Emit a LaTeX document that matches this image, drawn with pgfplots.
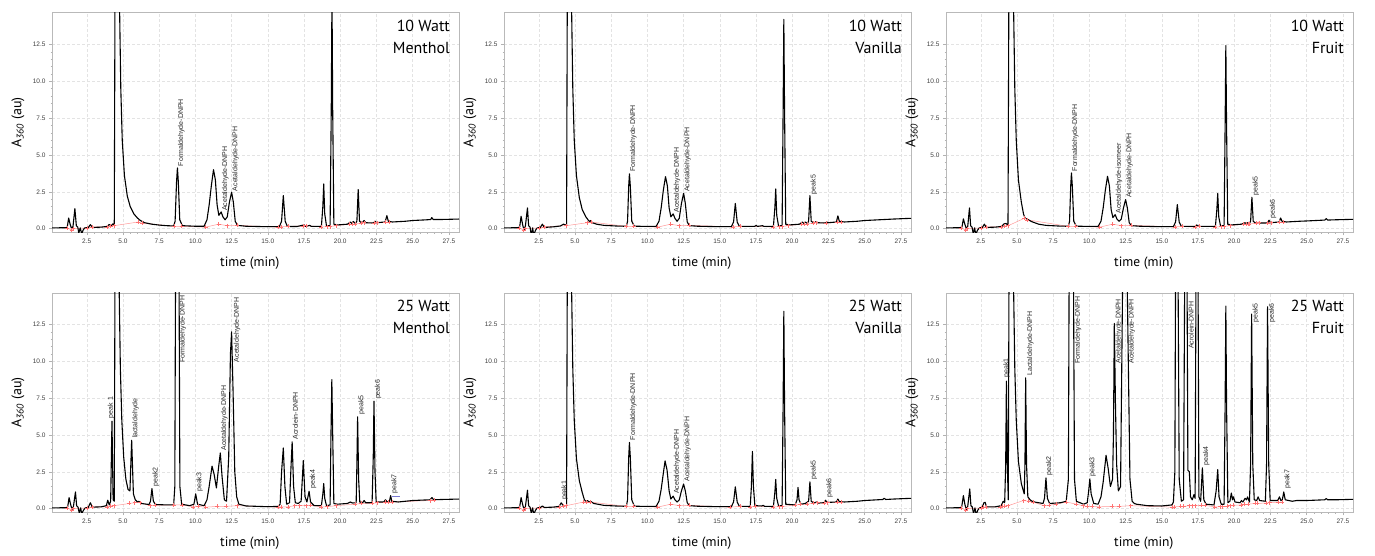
\documentclass[border=0pt]{standalone}
\usepackage{fontspec}
\setmainfont{PT Sans}
\newfontfamily\tickfont{Liberation Sans}
\newfontfamily\peakfont{Liberation Sans}
\usepackage{pgfplots}
\pgfplotsset{compat=1.18}

\pgfplotsset{
 chrom/.style={
  scale only axis, width=407pt, height=219.5pt,
  xmin=0.1, xmax=28.2, ymin=-0.25, ymax=14.65,
  xtick={2.5,5,7.5,10,12.5,15,17.5,20,22.5,25,27.5},
  ytick={0,2.5,5,7.5,10,12.5},
  minor x tick num=4, minor y tick num=4,
  tick pos=left, tick align=outside,
  major tick length=3pt, minor tick length=1.5pt,
  grid=major, major grid style={densely dashed, gray!22, line width=0.5pt},
  axis line style={gray!55, line width=0.6pt},
  tick style={gray!60, line width=0.5pt},
  ticklabel style={font=\tickfont\fontsize{6.5}{7}\selectfont, text=black!75},
  /pgf/number format/fixed, /pgf/number format/fixed zerofill,
  /pgf/number format/precision=1, /pgf/number format/assume math mode=true,
  xlabel={time (min)}, ylabel={A\textsubscript{\textit{360}} (au)},
  xlabel style={font=\fontsize{13.5}{15}\selectfont, at={(axis description cs:0.486,-0.141)}, anchor=center},
  ylabel style={font=\fontsize{14}{16}\selectfont, at={(axis description cs:-0.0835,0.5)}, anchor=center},
 },
 trace/.style={black, line width=1.1pt, line join=round, mark=none},
 base/.style={red!40, line width=0.5pt, mark=+, mark size=2pt, mark options={red!55}},
}
\tikzset{
 peak/.style={rotate=90, anchor=north west, inner sep=0.5pt, font=\peakfont\fontsize{7}{8}\selectfont, text=black!85},
 ttl/.style={anchor=north east, align=right, font=\fontsize{16}{21.7}\selectfont, inner sep=0pt}
}

\begin{document}
\begin{tikzpicture}
\useasboundingbox (0,0) rectangle (1375pt,555pt);

% ---------- 10 Watt Menthol
\begin{axis}[chrom, at={(52pt,322.7pt)}, anchor=south west]
\addplot[base] coordinates {(1.15,0.05) (1.45,-0.1) (1.55,0.0) (2.55,0.05) (2.85,0.12) (3.9,0.12) (4.15,0.18) (4.4,0.2) (6.05,0.45) (6.3,0.38) (8.55,0.15) (9.05,0.16) (10.7,0.1) (11.6,0.3) (12.2,0.2) (12.9,0.22) (15.7,0.1) (15.9,0.12) (16.4,0.15) (17.45,0.18) (17.65,0.2) (18.7,0.12) (19.1,0.13) (19.3,0.14) (19.7,0.2) (20.65,0.3) (20.85,0.3) (21.05,0.32) (21.45,0.35) (21.65,0.4) (22.35,0.38) (22.55,0.4) (23.1,0.42) (23.4,0.45)};
\addplot[trace] coordinates {(0.1,0.05) (1.0,0.06) (1.15,0.08) (1.25,0.72) (1.35,0.3) (1.45,0.0) (1.55,0.15) (1.68,1.36) (1.78,0.2) (1.88,0.1) (1.95,-0.3) (2.05,0.05) (2.15,-0.35) (2.25,-0.1) (2.35,0.05) (2.6,0.07) (2.75,0.27) (2.9,0.08) (3.5,0.1) (3.9,0.15) (4.05,0.28) (4.2,0.2) (4.3,0.32) (4.4,0.2) (4.45,16) (4.75,16) (4.85,9.5) (4.95,6.0) (5.1,3.6) (5.3,2.2) (5.5,1.5) (5.75,1.0) (6.0,0.72) (6.2,0.55) (6.5,0.4) (7.0,0.3) (7.5,0.24) (8.0,0.2) (8.5,0.18) (8.6,0.5) (8.7,3.2) (8.76,4.12) (8.82,3.2) (8.92,0.6) (9.1,0.2) (10.0,0.16) (10.6,0.16) (10.8,0.6) (10.95,1.6) (11.1,2.9) (11.25,4.0) (11.38,3.3) (11.5,1.6) (11.62,0.9) (11.78,1.13) (11.9,0.8) (12.05,0.6) (12.2,0.8) (12.35,1.8) (12.5,2.47) (12.62,1.8) (12.75,0.5) (12.9,0.22) (13.5,0.16) (15.0,0.13) (15.8,0.14) (15.95,0.5) (16.07,2.24) (16.2,0.5) (16.35,0.15) (17.0,0.14) (17.5,0.25) (17.6,0.15) (17.9,0.22) (18.0,0.15) (18.7,0.15) (18.8,1.5) (18.86,3.03) (18.93,1.0) (19.05,0.2) (19.3,0.2) (19.38,8) (19.43,16) (19.48,8) (19.56,0.3) (19.8,0.25) (20.5,0.3) (20.7,0.45) (20.8,0.35) (20.9,0.48) (21.05,0.35) (21.15,0.5) (21.24,2.65) (21.33,0.5) (21.5,0.38) (21.65,0.55) (21.75,0.4) (22.3,0.38) (22.4,0.5) (22.5,0.4) (23.1,0.45) (23.22,0.88) (23.32,0.5) (23.6,0.45) (24.5,0.5) (25.0,0.55) (26.0,0.6) (26.25,0.62) (26.32,0.75) (26.42,0.62) (27.0,0.62) (28.2,0.65)};
\node[peak] at (axis cs:8.76,4.2) {Formaldehyde-DNPH};
\node[peak] at (axis cs:11.8,1.15) {Acetaldehyde-DNPH};
\node[peak] at (axis cs:12.5,2.5) {Acetaldehyde-DNPH};
\node[ttl] at (rel axis cs:0.978,0.968) {10 Watt\\Menthol};
\end{axis}

% ---------- 10 Watt Vanilla
\begin{axis}[chrom, at={(504pt,322.7pt)}, anchor=south west]
\addplot[base] coordinates {(1.15,0.05) (1.45,-0.1) (1.55,0.0) (2.55,0.05) (2.85,0.12) (4.4,0.2) (5.85,0.4) (6.1,0.45) (8.55,0.15) (9.05,0.16) (10.7,0.1) (11.6,0.3) (12.2,0.2) (12.9,0.22) (15.9,0.12) (16.4,0.15) (18.7,0.12) (19.1,0.13) (19.3,0.14) (19.7,0.2) (20.65,0.3) (20.85,0.3) (21.05,0.32) (21.45,0.35) (21.65,0.4) (22.35,0.38) (23.1,0.42) (23.4,0.45)};
\addplot[trace] coordinates {(0.1,0.05) (1.0,0.06) (1.18,0.1) (1.28,0.84) (1.38,0.3) (1.48,-0.1) (1.58,0.2) (1.72,1.41) (1.8,0.2) (1.9,0.1) (1.98,-0.45) (2.08,0.05) (2.15,-0.45) (2.28,-0.1) (2.4,0.05) (2.6,0.07) (2.75,0.3) (2.88,0.08) (3.5,0.12) (4.0,0.18) (4.2,0.3) (4.35,0.25) (4.42,0.2) (4.47,16) (4.75,16) (4.85,9.5) (4.95,6.0) (5.1,3.6) (5.3,2.1) (5.5,1.3) (5.75,0.8) (5.9,0.6) (6.0,0.48) (6.08,0.55) (6.2,0.4) (6.5,0.3) (7.0,0.22) (8.0,0.17) (8.55,0.16) (8.63,0.5) (8.71,2.9) (8.76,3.72) (8.82,2.9) (8.92,0.5) (9.1,0.16) (10.6,0.15) (10.8,0.5) (10.95,1.4) (11.1,2.6) (11.25,3.53) (11.38,2.9) (11.5,1.4) (11.62,0.8) (11.78,1.0) (11.9,0.7) (12.05,0.5) (12.2,0.7) (12.35,1.7) (12.5,2.4) (12.62,1.7) (12.75,0.45) (12.9,0.2) (13.5,0.16) (15.0,0.13) (15.8,0.14) (15.95,0.45) (16.07,1.71) (16.2,0.45) (16.35,0.15) (17.4,0.15) (17.5,0.22) (17.6,0.15) (17.95,0.2) (18.05,0.15) (18.7,0.15) (18.8,1.4) (18.86,2.69) (18.93,0.9) (19.05,0.2) (19.3,0.2) (19.37,8) (19.42,14.2) (19.47,8) (19.55,0.3) (19.8,0.25) (20.5,0.3) (20.7,0.45) (20.8,0.35) (20.9,0.45) (21.05,0.35) (21.13,0.5) (21.22,2.24) (21.31,0.5) (21.5,0.38) (21.65,0.48) (21.75,0.4) (22.3,0.38) (22.38,0.45) (22.48,0.4) (23.05,0.45) (23.15,0.87) (23.25,0.5) (23.6,0.45) (24.5,0.5) (25.0,0.55) (26.0,0.6) (27.0,0.65) (28.2,0.7)};
\node[peak] at (axis cs:8.76,3.8) {Formaldehyde-DNPH};
\node[peak] at (axis cs:11.78,1.05) {Acetaldehyde-DNPH};
\node[peak] at (axis cs:12.5,2.45) {Acetaldehyde-DNPH};
\node[peak] at (axis cs:21.22,2.3) {peak5};
\node[ttl] at (rel axis cs:0.978,0.968) {10 Watt\\Vanilla};
\end{axis}

% ---------- 10 Watt Fruit
\begin{axis}[chrom, at={(946pt,322.7pt)}, anchor=south west]
\addplot[base] coordinates {(1.15,0.05) (1.45,-0.1) (1.55,0.0) (2.55,0.05) (2.85,0.12) (3.9,0.12) (4.15,0.18) (4.4,0.2) (5.5,0.7) (5.7,0.6) (8.55,0.15) (9.05,0.16) (10.7,0.1) (11.6,0.3) (12.2,0.2) (12.9,0.22) (15.9,0.12) (16.4,0.15) (17.3,0.1) (17.55,0.15) (18.7,0.12) (19.1,0.13) (19.3,0.14) (19.7,0.2) (20.65,0.3) (20.8,0.3) (20.95,0.32) (21.05,0.32) (21.5,0.35) (21.7,0.4) (22.3,0.38) (22.55,0.4) (23.1,0.42) (23.4,0.45)};
\addplot[trace] coordinates {(0.1,0.05) (1.0,0.06) (1.2,0.1) (1.3,0.66) (1.4,0.3) (1.5,0.0) (1.6,0.15) (1.72,1.4) (1.8,0.2) (1.9,0.1) (1.98,-0.35) (2.08,0.05) (2.15,-0.4) (2.28,-0.1) (2.4,0.05) (2.6,0.07) (2.75,0.3) (2.88,0.08) (3.5,0.1) (3.95,0.15) (4.1,0.32) (4.25,0.35) (4.38,0.22) (4.44,16) (4.75,16) (4.85,9.5) (4.95,6.0) (5.1,3.3) (5.3,1.8) (5.45,1.0) (5.55,0.72) (5.7,0.65) (6.0,0.48) (6.5,0.3) (7.0,0.22) (8.0,0.17) (8.55,0.16) (8.63,0.5) (8.71,2.9) (8.76,3.78) (8.82,2.9) (8.92,0.5) (9.1,0.16) (10.6,0.15) (10.8,0.5) (10.95,1.4) (11.1,2.6) (11.25,3.55) (11.38,2.9) (11.5,1.3) (11.62,0.75) (11.78,0.95) (11.9,0.65) (12.05,0.5) (12.2,0.65) (12.35,1.4) (12.5,1.97) (12.62,1.4) (12.75,0.4) (12.9,0.2) (13.5,0.16) (15.0,0.13) (15.8,0.14) (15.95,0.45) (16.07,1.63) (16.2,0.45) (16.35,0.15) (17.3,0.15) (17.4,0.25) (17.55,0.15) (18.7,0.15) (18.8,1.3) (18.86,2.38) (18.93,0.8) (19.05,0.2) (19.3,0.2) (19.37,7) (19.42,12.43) (19.47,7) (19.55,0.3) (19.8,0.25) (20.5,0.3) (20.75,0.4) (20.85,0.32) (20.95,0.42) (21.05,0.35) (21.13,0.5) (21.22,2.13) (21.31,0.5) (21.5,0.35) (21.65,0.42) (21.75,0.38) (22.3,0.38) (22.4,0.57) (22.5,0.4) (23.1,0.45) (23.2,0.72) (23.3,0.5) (23.6,0.45) (24.5,0.5) (25.0,0.52) (26.25,0.58) (26.35,0.68) (26.45,0.58) (27.0,0.6) (28.2,0.63)};
\node[peak] at (axis cs:8.76,3.85) {Formaldehyde-DNPH};
\node[peak] at (axis cs:11.78,1.0) {Acetaldehyde-isomeer};
\node[peak] at (axis cs:12.5,2.05) {Acetaldehyde-DNPH};
\node[peak] at (axis cs:21.22,2.2) {peak5};
\node[peak] at (axis cs:22.4,0.65) {peak6};
\node[ttl] at (rel axis cs:0.978,0.968) {10 Watt\\Fruit};
\end{axis}

% ---------- 25 Watt Menthol
\begin{axis}[chrom, at={(52pt,42.7pt)}, anchor=south west]
\addplot[base] coordinates {(1.15,0.05) (1.45,-0.1) (1.55,0.0) (2.55,0.05) (2.85,0.12) (3.9,0.12) (4.15,0.18) (4.4,0.2) (5.45,0.35) (5.8,0.4) (6.2,0.4) (6.85,0.2) (7.2,0.22) (8.5,0.25) (9.1,0.25) (9.85,0.12) (10.2,0.15) (10.7,0.1) (11.5,0.15) (12.1,0.15) (12.9,0.2) (15.7,0.1) (15.9,0.12) (16.4,0.12) (16.85,0.2) (17.2,0.2) (17.65,0.2) (17.95,0.22) (18.7,0.12) (19.1,0.13) (19.7,0.2) (21.05,0.3) (21.45,0.35) (22.2,0.35) (22.55,0.4) (23.1,0.42) (23.3,0.45) (23.6,0.45) (26.2,0.55) (26.5,0.6)};
\addplot[blue!50!gray!70, line width=0.8pt] coordinates {(23.55,0.85) (24.1,0.85)};
\addplot[trace] coordinates {(0.1,0.05) (1.0,0.06) (1.18,0.1) (1.28,0.75) (1.38,0.3) (1.48,-0.05) (1.58,0.15) (1.72,1.13) (1.8,0.2) (1.9,0.1) (1.98,-0.3) (2.08,0.05) (2.15,-0.35) (2.28,-0.1) (2.4,0.05) (2.6,0.08) (2.75,0.4) (2.88,0.1) (3.5,0.12) (3.85,0.2) (3.95,0.57) (4.05,0.25) (4.15,0.5) (4.24,5.93) (4.32,0.6) (4.4,0.5) (4.45,16) (4.72,16) (4.82,9.5) (4.92,6.0) (5.05,3.5) (5.2,2.0) (5.35,1.3) (5.48,1.2) (5.6,4.64) (5.72,1.0) (5.85,0.6) (6.0,0.45) (6.1,0.5) (6.25,0.35) (6.8,0.28) (6.9,0.5) (7.0,1.36) (7.1,0.5) (7.25,0.28) (8.0,0.25) (8.5,0.25) (8.58,1.5) (8.63,16) (8.87,16) (8.93,1.5) (9.05,0.3) (9.6,0.2) (9.9,0.3) (10.02,1.0) (10.15,0.3) (10.6,0.2) (10.8,0.6) (10.95,1.5) (11.15,2.88) (11.3,2.3) (11.45,1.4) (11.6,2.8) (11.72,3.78) (11.84,2.2) (12.0,0.6) (12.15,0.5) (12.3,3.5) (12.42,10.5) (12.5,12.0) (12.6,8) (12.72,2.5) (12.85,0.8) (13.0,0.3) (13.5,0.18) (15.0,0.13) (15.7,0.15) (15.85,0.3) (15.95,2.5) (16.07,4.12) (16.18,1.5) (16.3,0.3) (16.5,0.4) (16.6,2.8) (16.68,4.53) (16.78,1.5) (16.9,0.4) (17.1,0.35) (17.3,0.5) (17.45,3.26) (17.57,0.8) (17.7,0.45) (17.85,1.18) (17.95,0.45) (18.2,0.2) (18.7,0.2) (18.8,1.0) (18.86,1.7) (18.93,0.7) (19.05,0.2) (19.3,0.25) (19.36,5) (19.42,8.76) (19.48,5) (19.56,0.35) (19.8,0.3) (20.5,0.35) (20.7,0.45) (20.85,0.38) (21.1,0.4) (21.15,3) (21.2,6.23) (21.27,2) (21.35,0.45) (21.55,0.4) (21.65,0.55) (21.75,0.4) (22.2,0.4) (22.28,3.5) (22.33,7.29) (22.4,2.5) (22.48,0.45) (23.0,0.45) (23.12,0.6) (23.25,0.45) (23.4,0.5) (23.48,0.88) (23.56,0.5) (24.0,0.45) (25.0,0.55) (26.2,0.6) (26.33,0.75) (26.45,0.6) (27.0,0.62) (28.2,0.65)};
\node[peak] at (axis cs:3.9,6.1) {peak 1};
\node[peak] at (axis cs:5.6,4.75) {lactaldehyde};
\node[peak] at (axis cs:7.0,1.45) {peak2};
\node[peak] at (axis cs:8.85,9.85) {Formaldehyde-DNPH};
\node[peak] at (axis cs:10.02,1.1) {peak3};
\node[peak] at (axis cs:11.72,3.9) {Acetaldehyde-DNPH};
\node[peak] at (axis cs:12.6,9.9) {Acetaldehyde-DNPH};
\node[peak] at (axis cs:16.68,4.65) {Acrolein-DNPH};
\node[peak] at (axis cs:17.85,1.3) {peak4};
\node[peak] at (axis cs:21.2,6.35) {peak5};
\node[peak] at (axis cs:22.33,7.4) {peak6};
\node[peak] at (axis cs:23.48,1.0) {peak7};
\node[ttl] at (rel axis cs:0.978,0.968) {25 Watt\\Menthol};
\end{axis}

% ---------- 25 Watt Vanilla
\begin{axis}[chrom, at={(504pt,42.7pt)}, anchor=south west]
\addplot[base] coordinates {(1.15,0.05) (1.45,-0.1) (1.55,0.0) (2.55,0.05) (3.9,0.12) (4.2,0.15) (4.4,0.2) (5.6,0.45) (5.8,0.45) (6.05,0.45) (8.55,0.15) (9.05,0.16) (10.7,0.1) (11.6,0.3) (12.2,0.2) (12.9,0.22) (15.7,0.1) (16.4,0.15) (17.1,0.12) (17.45,0.15) (18.7,0.12) (19.1,0.13) (19.3,0.14) (20.2,0.25) (20.55,0.28) (21.05,0.32) (21.45,0.35) (21.75,0.4) (22.2,0.38) (22.45,0.4) (23.1,0.42) (23.4,0.45)};
\addplot[trace] coordinates {(0.1,0.05) (1.0,0.06) (1.18,0.1) (1.28,0.75) (1.38,0.3) (1.48,-0.05) (1.58,0.15) (1.72,1.25) (1.8,0.2) (1.9,0.1) (1.98,-0.3) (2.08,0.05) (2.15,-0.4) (2.28,-0.1) (2.4,0.05) (2.6,0.07) (2.75,0.18) (2.88,0.08) (3.5,0.1) (3.9,0.15) (4.05,0.39) (4.2,0.2) (4.42,0.2) (4.47,16) (4.75,16) (4.85,9.5) (4.95,6.0) (5.1,3.4) (5.3,1.9) (5.5,1.1) (5.65,0.6) (5.75,0.5) (5.85,0.55) (6.0,0.45) (6.1,0.48) (6.3,0.35) (7.0,0.22) (8.0,0.17) (8.55,0.16) (8.63,0.6) (8.71,3.5) (8.76,4.49) (8.82,3.5) (8.92,0.6) (9.1,0.16) (10.6,0.15) (10.8,0.5) (10.95,1.3) (11.1,2.4) (11.22,3.24) (11.36,2.6) (11.5,1.2) (11.62,0.65) (11.78,0.85) (11.9,0.6) (12.05,0.45) (12.2,0.6) (12.35,1.2) (12.5,1.67) (12.62,1.2) (12.75,0.4) (12.9,0.2) (13.5,0.16) (15.0,0.13) (15.8,0.14) (15.95,0.45) (16.07,1.48) (16.2,0.45) (16.35,0.15) (17.1,0.15) (17.18,1.5) (17.25,3.88) (17.32,1.5) (17.42,0.2) (17.9,0.18) (18.0,0.22) (18.1,0.15) (18.7,0.15) (18.8,1.1) (18.86,1.98) (18.93,0.7) (19.05,0.2) (19.3,0.2) (19.37,7) (19.42,13.4) (19.47,7) (19.55,0.3) (20.2,0.25) (20.33,0.6) (20.4,1.44) (20.47,0.6) (20.6,0.3) (20.9,0.35) (21.13,0.5) (21.22,1.82) (21.31,0.5) (21.5,0.38) (21.68,0.45) (21.8,0.38) (22.2,0.4) (22.3,0.57) (22.4,0.42) (23.05,0.45) (23.15,0.65) (23.25,0.48) (23.6,0.45) (24.5,0.5) (25.0,0.55) (26.25,0.62) (26.35,0.7) (26.45,0.62) (27.0,0.65) (28.2,0.7)};
\node[peak] at (axis cs:4.0,0.55) {peak1};
\node[peak] at (axis cs:8.76,4.6) {Formaldehyde-DNPH};
\node[peak] at (axis cs:11.78,0.95) {Acetaldehyde-DNPH};
\node[peak] at (axis cs:12.5,1.8) {Acetaldehyde-DNPH};
\node[peak] at (axis cs:21.22,1.95) {peak5};
\node[peak] at (axis cs:22.3,0.7) {peak6};
\node[ttl] at (rel axis cs:0.978,0.968) {25 Watt\\Vanilla};
\end{axis}

% ---------- 25 Watt Fruit
\begin{axis}[chrom, at={(946pt,42.7pt)}, anchor=south west]
\addplot[base] coordinates {(1.15,0.05) (1.45,-0.1) (1.55,0.0) (2.55,0.05) (2.7,0.1) (2.85,0.12) (3.85,0.12) (4.0,0.15) (4.15,0.18) (4.4,0.2) (5.45,0.55) (5.8,0.5) (6.1,0.45) (6.85,0.2) (7.2,0.22) (7.7,0.3) (8.4,0.45) (9.1,0.3) (9.55,0.2) (9.85,0.15) (10.2,0.15) (10.65,0.12) (11.55,0.15) (12.05,0.15) (12.85,0.2) (15.7,0.1) (15.85,0.12) (16.3,0.15) (16.5,0.15) (16.9,0.2) (17.1,0.2) (17.3,0.2) (17.7,0.22) (18.0,0.22) (18.65,0.12) (19.0,0.13) (19.2,0.14) (19.5,0.16) (19.7,0.2) (19.9,0.22) (20.45,0.25) (20.7,0.28) (20.95,0.3) (21.45,0.35) (21.6,0.35) (22.2,0.38) (22.45,0.4) (23.05,0.42) (23.3,0.45)};
\addplot[trace] coordinates {(0.1,0.05) (1.0,0.06) (1.18,0.1) (1.3,0.88) (1.4,0.3) (1.5,-0.05) (1.6,0.15) (1.74,1.34) (1.82,0.2) (1.92,0.1) (2.0,-0.35) (2.1,0.05) (2.18,-0.4) (2.3,-0.1) (2.42,0.05) (2.6,0.1) (2.72,0.4) (2.8,0.43) (2.9,0.12) (3.5,0.12) (3.9,0.2) (4.05,0.5) (4.15,0.4) (4.22,3) (4.27,8.65) (4.33,3) (4.4,0.6) (4.45,16) (4.75,16) (4.85,9.5) (4.95,6.0) (5.1,3.2) (5.3,1.7) (5.5,1.0) (5.55,3) (5.6,8.88) (5.66,3) (5.75,0.8) (5.9,0.6) (6.05,0.5) (6.2,0.45) (6.8,0.35) (6.9,0.7) (7.0,2.08) (7.1,0.7) (7.25,0.35) (8.0,0.4) (8.4,0.5) (8.55,2) (8.6,16) (8.9,16) (8.97,2) (9.1,0.5) (9.6,0.3) (9.85,0.4) (9.95,1.2) (10.03,2.02) (10.12,1.0) (10.3,0.35) (10.6,0.3) (10.8,0.8) (10.95,1.8) (11.15,3.62) (11.3,2.7) (11.45,1.5) (11.6,2.0) (11.66,5) (11.72,12.57) (11.8,7) (11.88,3) (12.0,1.2) (12.15,1.5) (12.3,16) (12.6,16) (12.8,2) (12.95,0.5) (13.1,0.35) (13.25,0.3) (14.0,0.2) (15.0,0.18) (15.7,0.25) (15.8,0.45) (15.9,2.5) (15.95,16) (16.12,16) (16.2,2) (16.35,0.5) (16.5,0.6) (16.58,16) (16.74,16) (16.8,2.6) (16.9,2.5) (16.98,0.8) (17.1,0.6) (17.22,0.95) (17.3,0.7) (17.36,16) (17.5,16) (17.56,0.8) (17.68,0.5) (17.8,2.77) (17.9,0.6) (18.05,0.3) (18.6,0.25) (18.75,1.2) (18.86,2.65) (18.95,0.8) (19.1,0.3) (19.3,0.3) (19.37,7) (19.42,13.75) (19.47,7) (19.56,0.4) (19.7,0.5) (19.8,1.06) (19.88,0.6) (19.95,0.8) (20.05,0.45) (20.4,0.4) (20.5,0.55) (20.6,0.45) (20.75,0.7) (20.85,0.6) (20.92,0.8) (21.05,0.45) (21.13,3) (21.2,13.2) (21.28,3) (21.38,0.6) (21.55,0.55) (21.65,0.8) (21.75,0.55) (22.15,0.5) (22.23,3) (22.3,13.7) (22.38,3) (22.48,0.55) (23.0,0.55) (23.12,0.8) (23.22,0.55) (23.32,0.6) (23.42,1.13) (23.52,0.6) (24.0,0.5) (24.3,0.55) (25.0,0.55) (26.25,0.6) (26.35,0.68) (26.45,0.6) (27.0,0.6) (28.2,0.63)};
\node[peak] at (axis cs:4.0,8.85) {peak1};
\node[peak] at (axis cs:5.65,9.0) {Lactaldehyde-DNPH};
\node[peak] at (axis cs:6.95,2.2) {peak2};
\node[peak] at (axis cs:8.95,9.8) {Formaldehyde-DNPH};
\node[peak] at (axis cs:9.95,2.15) {peak3};
\node[peak] at (axis cs:11.75,9.8) {Acetaldehyde-DNPH};
\node[peak] at (axis cs:12.65,9.8) {Acetaldehyde-DNPH};
\node[peak] at (axis cs:16.8,10.8) {Acrolein-DNPH};
\node[peak] at (axis cs:17.8,2.9) {peak4};
\node[peak] at (axis cs:21.22,12.6) {peak5};
\node[peak] at (axis cs:22.33,12.6) {peak6};
\node[peak] at (axis cs:23.4,1.3) {peak7};
\node[ttl] at (rel axis cs:0.978,0.968) {25 Watt\\Fruit};
\end{axis}
\end{tikzpicture}
\end{document}
